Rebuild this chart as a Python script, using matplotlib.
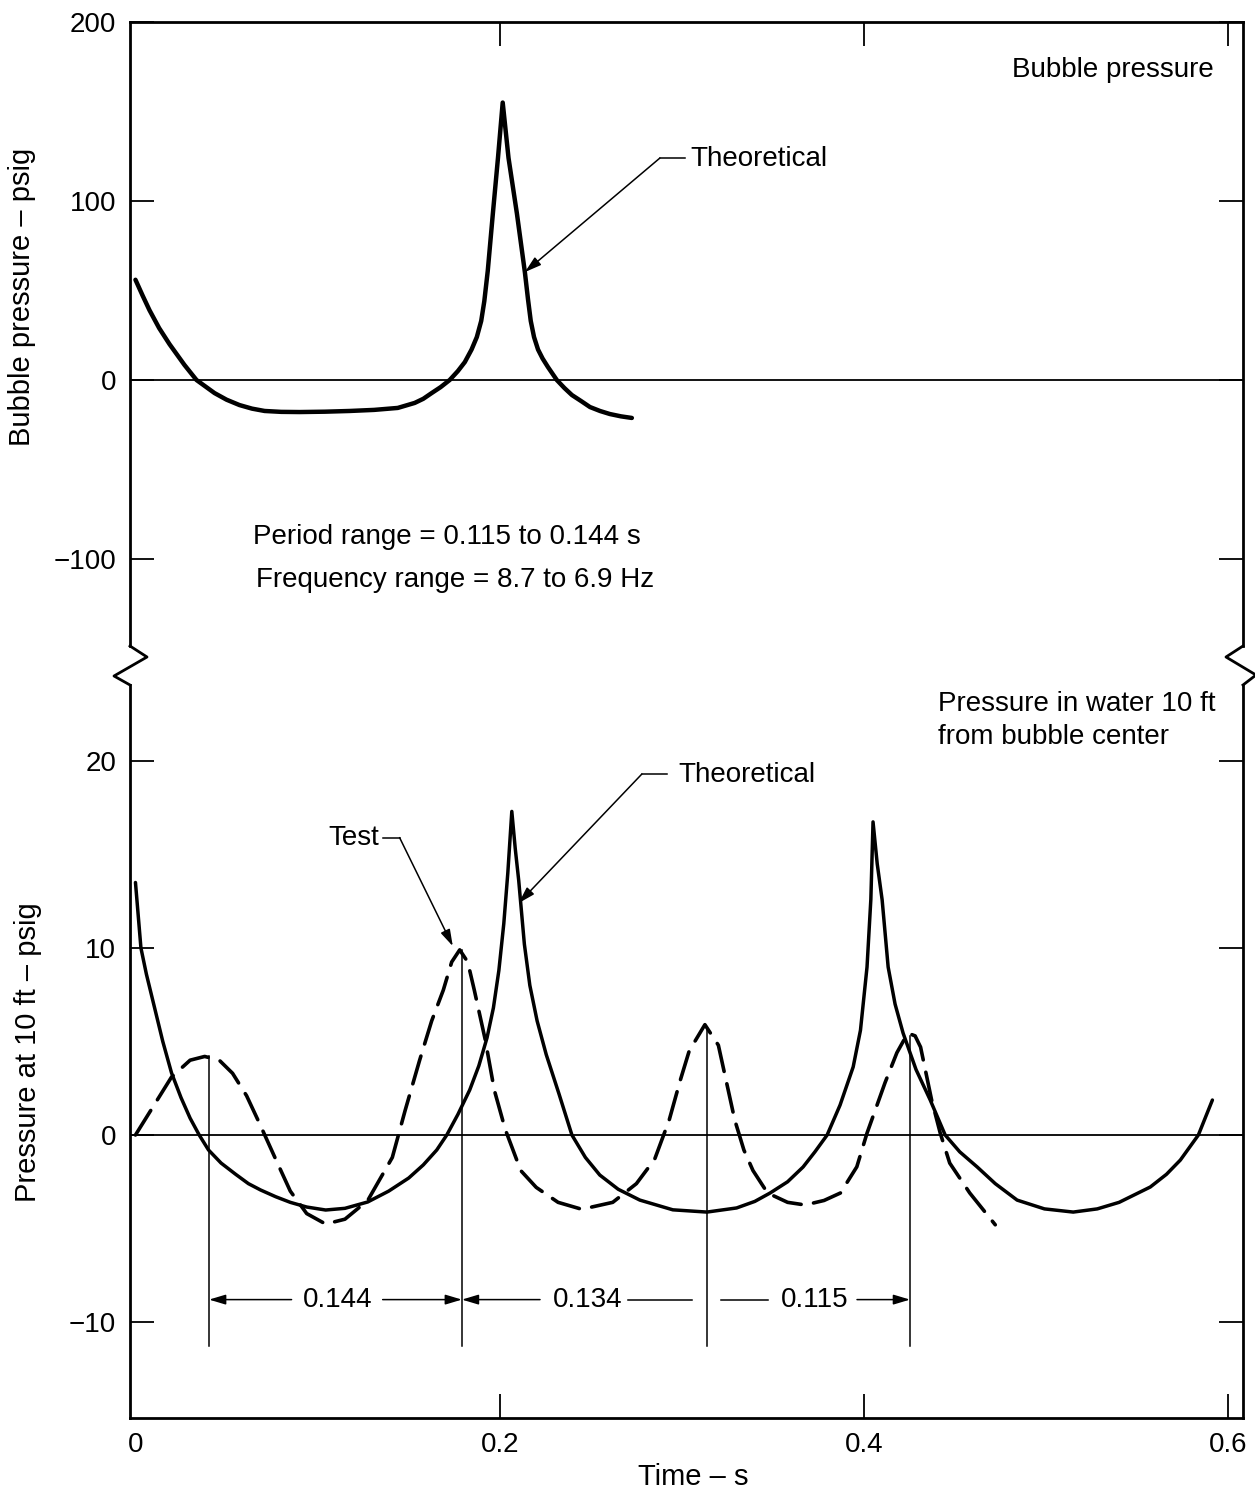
import matplotlib
matplotlib.use('Agg')
import matplotlib.pyplot as plt
from matplotlib.lines import Line2D

plt.rcParams['font.family'] = ['Liberation Sans', 'DejaVu Sans']
plt.rcParams['axes.unicode_minus'] = True

# ---------------- data ----------------
# Top panel: theoretical bubble pressure (psig) vs time (s)
bubble_t = [0.0, 0.004, 0.0077, 0.013, 0.0187, 0.0269, 0.0335, 0.0434, 0.05, 0.0571,
            0.064, 0.0709, 0.08, 0.0901, 0.104, 0.1176, 0.131, 0.144, 0.1533, 0.158,
            0.1626, 0.1675, 0.1725, 0.177, 0.1808, 0.1845, 0.1874, 0.1898, 0.1915, 0.1934,
            0.1962, 0.199, 0.2016, 0.2048, 0.2094, 0.2138, 0.2155, 0.217, 0.2188, 0.221,
            0.2235, 0.2264, 0.2313, 0.2355, 0.2396, 0.245, 0.2495, 0.255, 0.2604, 0.2665,
            0.2725]
bubble_p = [56, 47, 39, 29, 20, 8.4, 0, -7.3, -11, -14,
            -16, -17.3, -17.8, -17.9, -17.7, -17.3, -16.7, -15.6, -12.8, -10.5,
            -7.3, -4, 0, 5, 10, 17, 24, 33, 44, 61,
            93, 124, 155, 124, 93, 60, 45, 33, 24, 17,
            12, 7.3, 0, -4.5, -8.4, -12, -15.1, -17.3, -19, -20.3,
            -21.2]

# Bottom panel: theoretical pressure at 10 ft (psig)
theo_t = [0.0, 0.003, 0.006, 0.0104, 0.015, 0.0198, 0.025, 0.030, 0.035, 0.0401,
          0.047, 0.055, 0.062, 0.0687, 0.077, 0.085, 0.094, 0.1044, 0.115, 0.1275,
          0.139, 0.15, 0.158, 0.1654, 0.1709, 0.177, 0.1835, 0.1885, 0.193, 0.1965,
          0.1995, 0.2022, 0.2044, 0.2066, 0.2085, 0.2104, 0.2135, 0.2165, 0.2205, 0.2255,
          0.2325, 0.2396, 0.247, 0.2549, 0.265, 0.2769, 0.295, 0.3137, 0.33, 0.34,
          0.3484, 0.358, 0.3665, 0.373, 0.3797, 0.3868, 0.394, 0.398, 0.4016, 0.4037,
          0.4049, 0.4072, 0.4099, 0.4132, 0.417, 0.4214, 0.4285, 0.4363, 0.4445, 0.4525,
          0.4621, 0.472, 0.484, 0.499, 0.5148, 0.528, 0.54, 0.5571, 0.566, 0.5736,
          0.5835, 0.5912]
theo_p = [13.5, 10.0, 8.6, 6.84, 5.0, 3.32, 2.0, 0.9, 0.0, -0.8,
          -1.5, -2.1, -2.6, -2.94, -3.3, -3.6, -3.85, -4.01, -3.92, -3.58,
          -3.0, -2.3, -1.6, -0.8, 0.0, 1.1, 2.41, 3.7, 5.2, 6.8,
          8.8, 11.3, 14.0, 17.3, 15.3, 13.6, 10.2, 8.0, 6.1, 4.3,
          2.2, 0.0, -1.2, -2.14, -2.9, -3.48, -4.0, -4.12, -3.9, -3.55,
          -3.1, -2.5, -1.71, -0.9, 0.0, 1.6, 3.64, 5.6, 8.98, 12.6,
          16.74, 14.5, 12.57, 8.98, 7.0, 5.45, 3.5, 1.87, 0.0, -0.9,
          -1.71, -2.6, -3.48, -3.95, -4.12, -3.95, -3.6, -2.78, -2.1, -1.34,
          0.0, 1.87]

# Bottom panel: test pressure at 10 ft (psig)
test_t = [0.0, 0.0198, 0.030, 0.038, 0.046, 0.0533, 0.061, 0.068, 0.077, 0.085,
          0.094, 0.1044, 0.115, 0.1275, 0.141, 0.148, 0.156, 0.1626, 0.169, 0.1736,
          0.178, 0.1824, 0.186, 0.192, 0.197, 0.203, 0.2115, 0.22, 0.232, 0.245,
          0.262, 0.275, 0.285, 0.293, 0.299, 0.304, 0.3126, 0.32, 0.3236, 0.329,
          0.334, 0.339, 0.347, 0.358, 0.3676, 0.378, 0.387, 0.396, 0.4016, 0.4115,
          0.418, 0.424, 0.428, 0.431, 0.437, 0.4418, 0.447, 0.458, 0.472]
test_p = [0.0, 3.1, 4.0, 4.2, 4.0, 3.3, 2.1, 0.64, -1.3, -3.0,
          -4.2, -4.76, -4.5, -3.5, -1.2, 1.3, 4.0, 6.1, 7.75, 9.25,
          9.9, 9.25, 7.75, 5.1, 2.4, 0.3, -1.9, -2.8, -3.6, -3.97,
          -3.6, -2.6, -1.3, 0.8, 2.9, 4.5, 5.9, 4.8, 3.2, 0.8,
          -0.8, -1.9, -3.1, -3.6, -3.74, -3.5, -3.1, -1.7, 0.1, 2.8,
          4.4, 5.45, 5.3, 4.7, 1.9, 0.1, -1.5, -3.1, -4.8]

# interval markers (test peaks) and labels
marker_t = [0.0404, 0.1792, 0.3137, 0.4252]
marker_top = [4.2, 9.9, 5.8, 5.3]
marker_bottom = -11.3
interval_labels = ['0.144', '0.134', '0.115']

top_yticks = [200, 100, 0, -100]
bot_yticks = [20, 10, 0, -10]
xticks = [0, 0.2, 0.4, 0.6]
xticklabels = ['0', '0.2', '0.4', '0.6']

# ---------------- layout ----------------
W, H = 1255, 1494
fig = plt.figure(figsize=(W / 100, H / 100), dpi=100)

def fx(px):
    return px / W

def fy(py):
    return 1 - py / H

L, R = 130, 1243
TOP1, BOT1 = 22, 646
TOP2, BOT2 = 685, 1418
ax1 = fig.add_axes([fx(L), fy(BOT1), (R - L) / W, (BOT1 - TOP1) / H])
ax2 = fig.add_axes([fx(L), fy(BOT2), (R - L) / W, (BOT2 - TOP2) / H])

FS = 20
LFS = 21
SPW = 2.0
XLIM = (-0.003, 0.608)

for ax in (ax1, ax2):
    ax.set_xlim(*XLIM)
    for s in ax.spines.values():
        s.set_linewidth(SPW)
    ax.tick_params(direction='in', length=17, width=1.3, labelsize=FS, pad=10)
    ax.axhline(0, color='black', lw=1.3, zorder=1)

ax1.set_ylim(-148.6, 200)
ax1.spines['bottom'].set_visible(False)
ax1.set_yticks(top_yticks)
ax1.set_xticks(xticks[1:])
ax1.tick_params(axis='x', bottom=False, top=True, labelbottom=False)
ax1.tick_params(axis='y', left=True, right=True)

ax2.set_ylim(-15.13, 24.06)
ax2.spines['top'].set_visible(False)
ax2.set_yticks(bot_yticks)
ax2.set_xticks(xticks)
ax2.set_xticklabels(xticklabels)
ax2.tick_params(axis='x', bottom=True, top=False)
ax2.tick_params(axis='y', left=True, right=True)
ax2.xaxis.get_major_ticks()[0].tick1line.set_visible(False)

# break marks
zl_x = [130, 147, 114, 130]
zl_y = [646, 657, 676, 685]
zr_x = [1243, 1226, 1256, 1243]
zr_y = [646, 657, 675, 685]
fig.add_artist(Line2D([fx(v) for v in zl_x], [fy(v) for v in zl_y],
                      color='black', lw=SPW, transform=fig.transFigure))
fig.add_artist(Line2D([fx(v) for v in zr_x], [fy(v) for v in zr_y],
                      color='black', lw=SPW, transform=fig.transFigure))

# ---------------- curves ----------------
ax1.plot(bubble_t, bubble_p, color='black', lw=3.2, solid_capstyle='round',
         solid_joinstyle='round', zorder=3)
ax2.plot(theo_t, theo_p, color='black', lw=2.5, solid_capstyle='round',
         solid_joinstyle='round', zorder=3)
ax2.plot(test_t, test_p, color='black', lw=2.6, linestyle=(0, (8, 3.5)),
         dash_capstyle='round', zorder=3)

for t, top in zip(marker_t, marker_top):
    ax2.plot([t, t], [top, marker_bottom], color='black', lw=1.1, zorder=2)

# ---------------- annotations ----------------
ARW = dict(arrowstyle='-|>,head_length=0.5,head_width=0.15', color='black',
           lw=1.1, shrinkA=0, shrinkB=0, mutation_scale=20)

ax1.text(0.5918, 173, 'Bubble pressure', fontsize=FS, ha='right', va='center')
ax1.text(0.3044, 123.5, 'Theoretical', fontsize=FS, ha='left', va='center')
ax1.plot([0.2879, 0.3016], [124, 124], color='black', lw=1.1)
ax1.annotate('', xy=(0.2138, 60.3), xytext=(0.2879, 124), arrowprops=ARW)
ax1.text(0.0643, -87.7, 'Period range = 0.115 to 0.144 s', fontsize=FS,
         ha='left', va='center')
ax1.text(0.0659, -111.7, 'Frequency range = 8.7 to 6.9 Hz', fontsize=FS,
         ha='left', va='center')

ax2.text(0.4407, 23.05, 'Pressure in water 10 ft', fontsize=FS, ha='left', va='center')
ax2.text(0.4407, 21.3, 'from bubble center', fontsize=FS, ha='left', va='center')
ax2.text(0.2978, 19.25, 'Theoretical', fontsize=FS, ha='left', va='center')
ax2.plot([0.278, 0.2918], [19.3, 19.3], color='black', lw=1.1)
ax2.annotate('', xy=(0.2104, 12.4), xytext=(0.278, 19.3), arrowprops=ARW)
ax2.text(0.134, 15.9, 'Test', fontsize=FS, ha='right', va='center')
ax2.plot([0.1357, 0.145], [15.9, 15.9], color='black', lw=1.1)
ax2.annotate('', xy=(0.1742, 10.1), xytext=(0.145, 15.9), arrowprops=ARW)

dim_y = -8.8
label_x = [0.111, 0.2484, 0.373]
for lx, lab in zip(label_x, interval_labels):
    ax2.text(lx, dim_y, lab, fontsize=FS, ha='center', va='center')
# 0.144
ax2.annotate('', xy=(marker_t[0], dim_y), xytext=(0.0857, dim_y), arrowprops=ARW)
ax2.annotate('', xy=(marker_t[1], dim_y), xytext=(0.1357, dim_y), arrowprops=ARW)
# 0.134
ax2.annotate('', xy=(marker_t[1], dim_y), xytext=(0.2221, dim_y), arrowprops=ARW)
ax2.plot([0.2704, 0.3055], [dim_y, dim_y], color='black', lw=1.1)
# 0.115
ax2.plot([0.3214, 0.3472], [dim_y, dim_y], color='black', lw=1.1)
ax2.annotate('', xy=(marker_t[3], dim_y), xytext=(0.3961, dim_y), arrowprops=ARW)

# ---------------- labels ----------------
ax1.set_ylabel('Bubble pressure – psig', fontsize=LFS, va='center')
ax1.yaxis.set_label_coords(-0.097, 0.56)
ax2.set_ylabel('Pressure at 10 ft – psig', fontsize=LFS, va='center')
ax2.yaxis.set_label_coords(-0.0916, 0.499)
ax2.set_xlabel('Time – s', fontsize=LFS, va='center')
ax2.xaxis.set_label_coords(0.506, -0.0805)

fig.savefig('out.png', dpi=100)
